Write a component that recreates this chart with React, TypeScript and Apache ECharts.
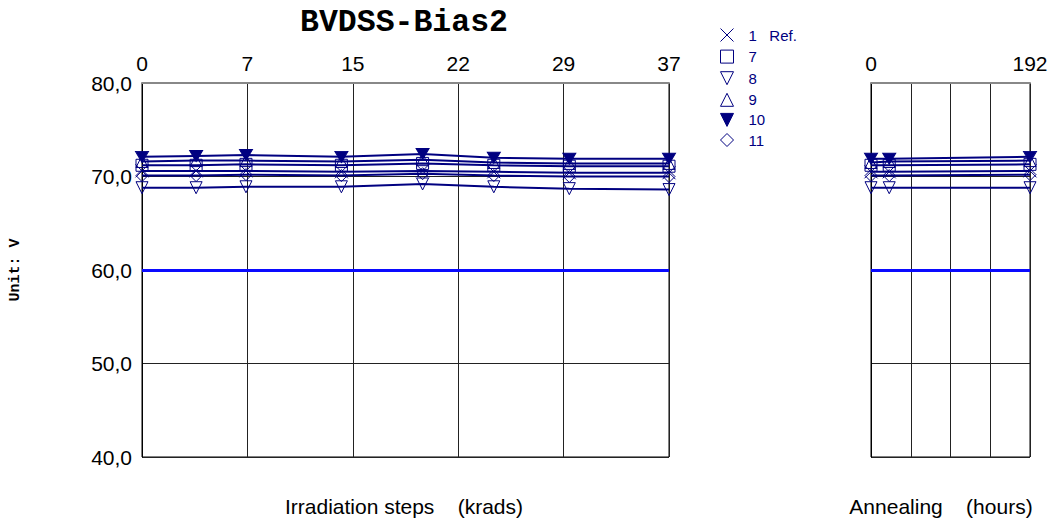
import React, { useEffect, useRef } from "react";
import * as echarts from "echarts";

const irrX = [0, 3.8, 7.3, 14, 19.7, 24.7, 30, 37];
const annX = [0, 22, 192];
const irrTickLabels = ["0", "7", "15", "22", "29", "37"];
const annTickLabels = ["0", "192"];
const seriesNames = ["1   Ref.", "7", "8", "9", "10", "11"];

const irrRef1 = [70.6, 70.6, 70.6, 70.5, 70.6, 70.5, 70.4, 70.4];
const irr7 = [71.2, 71.2, 71.3, 71.2, 71.4, 71.2, 71.1, 71.1];
const irr8 = [68.8, 68.8, 68.9, 68.9, 69.2, 68.9, 68.7, 68.6];
const irr9 = [71.6, 71.7, 71.7, 71.6, 71.8, 71.5, 71.4, 71.4];
const irr10 = [72.1, 72.2, 72.3, 72.1, 72.4, 72.0, 71.9, 71.9];
const irr11 = [70.1, 70.1, 70.2, 70.1, 70.3, 70.1, 70.0, 70.0];

const annRef1 = [70.5, 70.5, 70.6];
const ann7 = [71.2, 71.2, 71.3];
const ann8 = [68.8, 68.8, 68.8];
const ann9 = [71.5, 71.6, 71.7];
const ann10 = [71.9, 71.9, 72.1];
const ann11 = [70.1, 70.1, 70.2];

const limitValue = 60;

const NAVY = "#000080";
const CROSS = "path://M0,0L10,10M10,0L0,10";
const SQUARE = "path://M0,0L10,0L10,10L0,10Z";
const TRI_DOWN = "path://M0,0L10,0L5,10Z";
const TRI_UP = "path://M5,0L10,10L0,10Z";
const DIAMOND = "path://M5,0L10,5L5,10L0,5Z";

const markers = [
  { symbol: CROSS, fill: "none", size: 13 },
  { symbol: SQUARE, fill: "none", size: 12 },
  { symbol: TRI_DOWN, fill: "none", size: [12, 12] },
  { symbol: TRI_UP, fill: "none", size: [12, 12] },
  { symbol: TRI_DOWN, fill: NAVY, size: [13, 11] },
  { symbol: DIAMOND, fill: "none", size: 12 },
];

const irrData = [irrRef1, irr7, irr8, irr9, irr10, irr11];
const annData = [annRef1, ann7, ann8, ann9, ann10, ann11];

export default function App() {
  const ref = useRef<HTMLDivElement>(null);
  useEffect(() => {
    document.body.style.margin = "0";
    const chart = echarts.init(ref.current!, null, { renderer: "svg" });
    const limitLine = {
      silent: true,
      symbol: "none",
      label: { show: false },
      lineStyle: { color: "#0a0aff", width: 3, type: "solid" },
      data: [{ yAxis: limitValue }],
    };
    const series: any[] = [];
    seriesNames.forEach((name, i) => {
      const m = markers[i];
      const common = {
        type: "line",
        name,
        symbol: m.symbol,
        symbolSize: m.size,
        showAllSymbol: true,
        lineStyle: { color: NAVY, width: 2 },
        itemStyle: { color: m.fill, borderColor: NAVY, borderWidth: 1 },
        emphasis: { disabled: true },
        z: 3,
      };
      series.push({
        ...common,
        xAxisIndex: 0,
        yAxisIndex: 0,
        data: irrX.map((x, k) => [x, irrData[i][k]]),
        markLine: i === 0 ? limitLine : undefined,
      });
      series.push({
        ...common,
        xAxisIndex: 1,
        yAxisIndex: 1,
        data: annX.map((x, k) => [x, annData[i][k]]),
        markLine: i === 0 ? limitLine : undefined,
      });
    });

    const labelStyle = { fontFamily: "Liberation Sans, Arial", fontSize: 21, color: "#000" };
    const split = { show: true, lineStyle: { color: "#222", width: 1 } };

    chart.setOption({
      animation: false,
      backgroundColor: "#fff",
      grid: [
        { left: 142, top: 83, width: 527, height: 374, show: true, borderColor: "#000", borderWidth: 1 },
        { left: 871, top: 83, width: 159, height: 374, show: true, borderColor: "#000", borderWidth: 1 },
      ],
      xAxis: [
        {
          type: "value",
          gridIndex: 0,
          position: "top",
          min: 0,
          max: 37,
          interval: 7.4,
          axisLine: { show: true, lineStyle: { color: "#888", width: 2 } },
          axisTick: { show: false },
          axisLabel: {
            ...labelStyle,
            margin: 9,
            formatter: (v: number) => irrTickLabels[Math.round(v / 7.4)] ?? "",
          },
          splitLine: split,
        },
        {
          type: "value",
          gridIndex: 1,
          position: "top",
          min: 0,
          max: 192,
          interval: 48,
          axisLine: { show: true, lineStyle: { color: "#888", width: 2 } },
          axisTick: { show: false },
          axisLabel: {
            ...labelStyle,
            margin: 9,
            formatter: (v: number) => (v === 0 ? annTickLabels[0] : v === 192 ? annTickLabels[1] : ""),
          },
          splitLine: split,
        },
      ],
      yAxis: [
        {
          type: "value",
          gridIndex: 0,
          min: 40,
          max: 80,
          interval: 10,
          name: "Unit: V",
          nameLocation: "middle",
          nameRotate: 90,
          nameGap: 119,
          nameTextStyle: { fontFamily: "Liberation Mono, Courier New", fontWeight: "bold", fontSize: 15, color: "#000" },
          axisLine: { show: true, lineStyle: { color: "#000" } },
          axisTick: { show: false },
          axisLabel: {
            ...labelStyle,
            margin: 10,
            formatter: (v: number) => v.toFixed(1).replace(".", ","),
          },
          splitLine: split,
        },
        {
          type: "value",
          gridIndex: 1,
          min: 40,
          max: 80,
          interval: 10,
          axisLine: { show: true, lineStyle: { color: "#000" } },
          axisTick: { show: false },
          axisLabel: { show: false },
          splitLine: split,
        },
      ],
      legend: {
        orient: "vertical",
        left: 718,
        top: 26,
        padding: 0,
        itemWidth: 33,
        itemHeight: 13,
        itemGap: 3.6,
        symbolKeepAspect: true,
        selectedMode: false,
        textStyle: { fontFamily: "Liberation Sans, Arial", fontSize: 15, color: NAVY },
        data: seriesNames.map((name, i) => ({
          name,
          icon: markers[i].symbol,
          itemStyle: { color: markers[i].fill, borderColor: NAVY, borderWidth: 1 },
        })),
      },
      graphic: [
        {
          type: "text",
          x: 404,
          y: 22,
          style: {
            text: "BVDSS-Bias2",
            fontFamily: "Liberation Mono, Courier New",
            fontWeight: "bold",
            fontSize: 31.5,
            fill: "#000",
            textAlign: "center",
            textVerticalAlign: "middle",
          },
        },
        {
          type: "text",
          x: 404,
          y: 506,
          style: {
            text: "Irradiation steps    (krads)",
            fontFamily: "Liberation Sans, Arial",
            fontSize: 21,
            fill: "#000",
            textAlign: "center",
            textVerticalAlign: "middle",
          },
        },
        {
          type: "text",
          x: 941,
          y: 506,
          style: {
            text: "Annealing    (hours)",
            fontFamily: "Liberation Sans, Arial",
            fontSize: 21,
            fill: "#000",
            textAlign: "center",
            textVerticalAlign: "middle",
          },
        },
      ],
      series,
    });
    return () => chart.dispose();
  }, []);
  return <div ref={ref} style={{ width: 1061, height: 523 }} />;
}
